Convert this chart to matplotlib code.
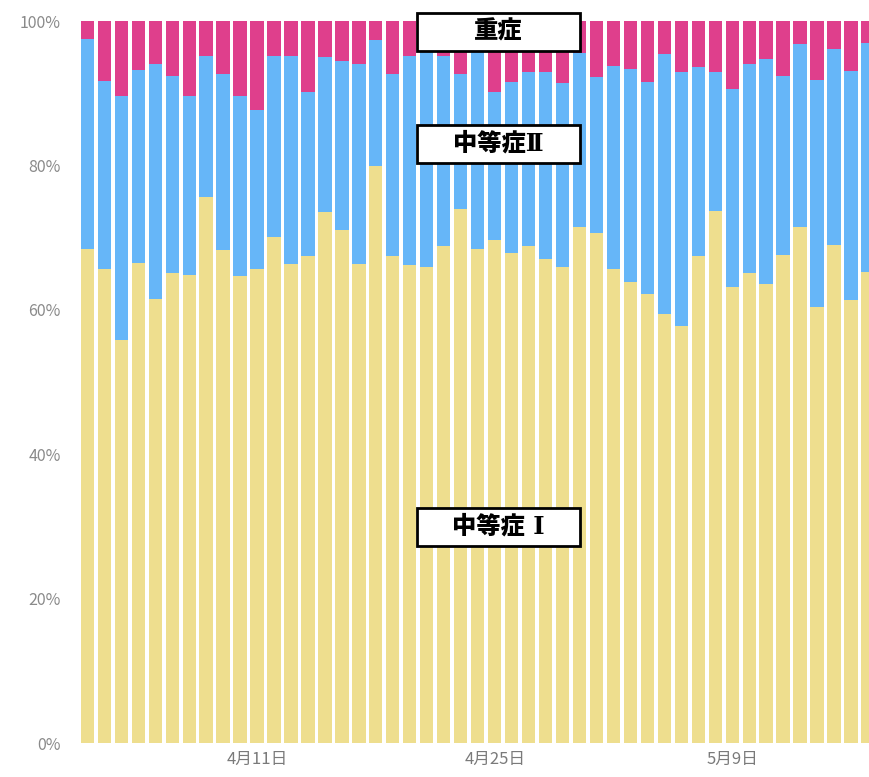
import numpy as np
import pandas as pd
import matplotlib
matplotlib.use("Agg")
import matplotlib.pyplot as plt
from matplotlib.patches import Rectangle

plt.rcParams['font.family'] = ['Noto Sans CJK JP', 'DejaVu Sans']

# daily share of patients by severity (%)
dates = pd.date_range("2021-04-01", periods=47, freq="D")
moderate1 = [68.4, 65.6, 55.8, 66.5, 61.5, 65.1, 64.8, 75.6, 68.3, 64.7,
             65.7, 70.1, 66.4, 67.4, 73.6, 71.1, 66.4, 79.9, 67.5, 66.2,
             65.9, 68.8, 73.9, 68.4, 69.7, 67.9, 68.8, 67.1, 65.9, 71.5,
             70.6, 65.6, 63.9, 62.2, 59.4, 57.7, 67.4, 73.7, 63.2, 65.1,
             63.6, 67.6, 71.5, 60.4, 69.0, 61.4, 65.3]
moderate2 = [29.1, 26.1, 33.8, 26.7, 32.5, 27.3, 24.8, 19.6, 24.3, 24.9,
             22.0, 25.1, 28.8, 22.8, 21.4, 23.3, 27.6, 17.5, 25.1, 28.9,
             30.1, 26.4, 18.8, 28.1, 20.5, 23.7, 24.2, 25.9, 25.5, 24.0,
             21.7, 28.1, 29.4, 29.3, 36.0, 35.2, 26.2, 19.3, 27.4, 28.9,
             31.1, 24.8, 25.3, 31.4, 27.1, 31.7, 31.7]
severe = [2.5, 8.3, 10.4, 6.8, 6.0, 7.6, 10.4, 4.8, 7.4, 10.4,
          12.3, 4.8, 4.8, 9.8, 5.0, 5.6, 6.0, 2.6, 7.4, 4.9,
          4.0, 4.8, 7.3, 3.5, 9.8, 8.4, 7.0, 7.0, 8.6, 4.5,
          7.7, 6.3, 6.7, 8.5, 4.6, 7.1, 6.4, 7.0, 9.4, 6.0,
          5.3, 7.6, 3.2, 8.2, 3.9, 6.9, 3.0]
tick_dates = ["2021-04-11", "2021-04-25", "2021-05-09"]

c_mod1 = "#EEDE8E"
c_mod2 = "#66B6F8"
c_sev = "#DF3F8C"

fig = plt.figure(figsize=(8.7, 7.77), dpi=100)
ax = fig.add_axes([80 / 870, 34 / 777, 790 / 870, 722 / 777])

x = np.arange(len(dates))
m1 = np.array(moderate1)
m2 = np.array(moderate2)
sv = np.array(severe)
w = 0.785
ax.bar(x, m1, width=w, color=c_mod1)
ax.bar(x, m2, width=w, bottom=m1, color=c_mod2)
ax.bar(x, sv, width=w, bottom=m1 + m2, color=c_sev)

ax.set_xlim(-0.433, 46.12)
ax.set_ylim(0, 100)

for s in ax.spines.values():
    s.set_visible(False)

ax.set_yticks([0, 20, 40, 60, 80, 100])
ax.set_yticklabels([f"{v}%" for v in [0, 20, 40, 60, 80, 100]])
ax.tick_params(axis="y", length=0, pad=14, labelsize=11.5, labelcolor="#8a8a8a")

tpos = [list(dates).index(pd.Timestamp(d)) for d in tick_dates]
ax.set_xticks(tpos)
ax.set_xticklabels([f"{dates[i].month}月{dates[i].day}日" for i in tpos])
ax.tick_params(axis="x", length=0, pad=6, labelsize=12, labelcolor="#7a7a7a")

# label boxes (figure pixel coords)
labels = [("重症", 13), ("中等症Ⅱ", 125), ("中等症 Ⅰ", 508)]
for txt, top in labels:
    x0, x1 = 417, 580
    h = 38
    rect = Rectangle((x0 / 870, 1 - (top + h) / 777), (x1 - x0) / 870, h / 777,
                     transform=fig.transFigure, facecolor="white",
                     edgecolor="black", linewidth=2, zorder=5)
    fig.add_artist(rect)
    fig.text((x0 + x1) / 2 / 870, 1 - (top + h / 2) / 777, txt,
             ha="center", va="center", fontsize=17.5, fontweight="heavy",
             family=['DejaVu Serif', 'Noto Sans CJK JP'],
             color="black", zorder=6)

fig.savefig("out.png", dpi=100, facecolor="white")
